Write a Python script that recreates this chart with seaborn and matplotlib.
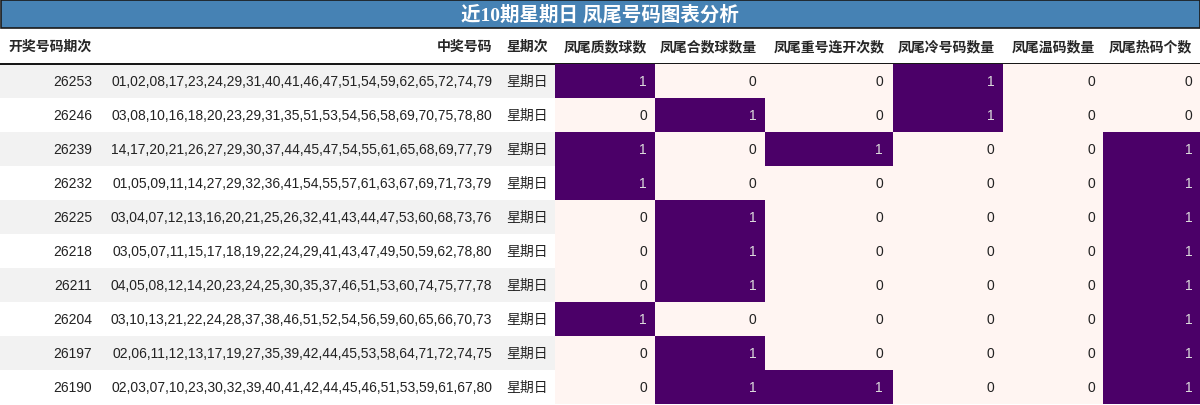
import matplotlib
matplotlib.use("Agg")
import matplotlib.pyplot as plt
import seaborn as sns
import numpy as np
from matplotlib.colors import ListedColormap
from matplotlib.patches import Rectangle

periods = ["26253","26246","26239","26232","26225","26218","26211","26204","26197","26190"]
numbers = [
"01,02,08,17,23,24,29,31,40,41,46,47,51,54,59,62,65,72,74,79",
"03,08,10,16,18,20,23,29,31,35,51,53,54,56,58,69,70,75,78,80",
"14,17,20,21,26,27,29,30,37,44,45,47,54,55,61,65,68,69,77,79",
"01,05,09,11,14,27,29,32,36,41,54,55,57,61,63,67,69,71,73,79",
"03,04,07,12,13,16,20,21,25,26,32,41,43,44,47,53,60,68,73,76",
"03,05,07,11,15,17,18,19,22,24,29,41,43,47,49,50,59,62,78,80",
"04,05,08,12,14,20,23,24,25,30,35,37,46,51,53,60,74,75,77,78",
"03,10,13,21,22,24,28,37,38,46,51,52,54,56,59,60,65,66,70,73",
"02,06,11,12,13,17,19,27,35,39,42,44,45,53,58,64,71,72,74,75",
"02,03,07,10,23,30,32,39,40,41,42,44,45,46,51,53,59,61,67,80",
]
weekday = ["星期日"] * 10
metric_names = ["凤尾质数球数","凤尾合数球数量","凤尾重号连开次数","凤尾冷号码数量","凤尾温码数量","凤尾热码个数"]
prime_cnt  = [1,0,1,1,0,0,0,1,0,0]
comp_cnt   = [0,1,0,0,1,1,1,0,1,1]
repeat_cnt = [0,0,1,0,0,0,0,0,0,1]
cold_cnt   = [1,1,0,0,0,0,0,0,0,0]
warm_cnt   = [0,0,0,0,0,0,0,0,0,0]
hot_cnt    = [0,0,1,1,1,1,1,1,1,1]
metrics = [prime_cnt, comp_cnt, repeat_cnt, cold_cnt, warm_cnt, hot_cnt]

sns.set_theme(style="white")
FAM = ["Liberation Sans", "Noto Sans CJK SC", "DejaVu Sans"]
plt.rcParams['font.family'] = FAM

W, H = 1200, 406
fig = plt.figure(figsize=(12, 4.06), dpi=100)
ax = fig.add_axes([0, 0, 1, 1])
ax.set_xlim(0, W); ax.set_ylim(H, 0); ax.axis("off")

top0, rowh = 65, 34
# title bar
ax.add_patch(Rectangle((0.5, 0.5), W - 1, 28, facecolor="#4682B4", edgecolor="#1a1a1a", lw=1.2))
ax.text(600, 15, "近10期星期日 凤尾号码图表分析", ha="center", va="center", color="white",
        fontsize=14, fontweight="bold", family=["Liberation Serif", "Noto Sans CJK SC"])
# rows background
for i in range(10):
    if i % 2 == 0:
        ax.add_patch(Rectangle((0, top0 + i * rowh), 555, rowh, facecolor="#F2F2F2", edgecolor="none"))
ax.plot([0, W], [top0 - 0.5, top0 - 0.5], color="black", lw=1.3)

edges = [555, 655, 765, 893, 1003, 1103, 1200]
hy = 47
ax.text(8, hy, "开奖号码期次", ha="left", va="center", fontsize=10, fontweight="bold")
ax.text(492, hy, "中奖号码", ha="right", va="center", fontsize=10, fontweight="bold")
ax.text(527, hy, "星期次", ha="center", va="center", fontsize=10, fontweight="bold")
for j, n in enumerate(metric_names):
    ax.text(edges[j + 1] - 8, hy, n, ha="right", va="center", fontsize=10, fontweight="bold")

for i in range(10):
    y = top0 + (i + 0.5) * rowh
    ax.text(92, y, periods[i], ha="right", va="center", fontsize=10, color="#222222")
    ax.text(492, y, numbers[i], ha="right", va="center", fontsize=10, color="#222222")
    ax.text(527, y, weekday[i], ha="center", va="center", fontsize=10, color="#222222")

cmap = ListedColormap(["#FFF5F2", "#4B0068"])
for j, vals in enumerate(metrics):
    x0, x1 = edges[j], edges[j + 1]
    hax = fig.add_axes([x0 / W, 1 - (top0 + 10 * rowh) / H, (x1 - x0) / W, 10 * rowh / H])
    arr = np.array(vals).reshape(-1, 1)
    sns.heatmap(arr, ax=hax, cmap=cmap, vmin=0, vmax=1, cbar=False, annot=False,
                xticklabels=False, yticklabels=False)
    for i, v in enumerate(vals):
        hax.text(0.92, i + 0.5, str(v), ha="right", va="center", fontsize=10,
                 color="#dddddd" if v else "#222222")

fig.savefig("out.png", dpi=100)
